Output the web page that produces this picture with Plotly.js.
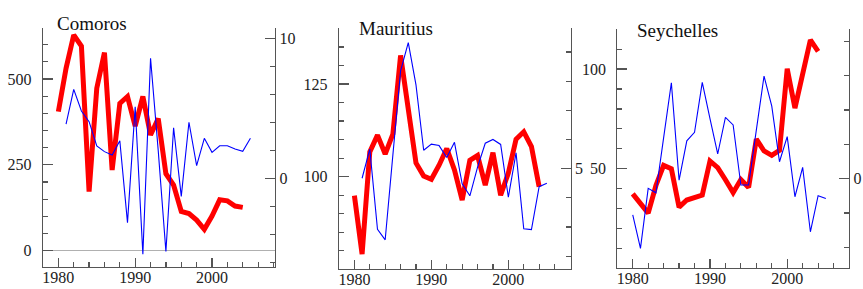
<!DOCTYPE html>
<html>
<head>
<meta charset="utf-8">
<script src="https://cdn.plot.ly/plotly-3.0.1.min.js"></script>
<style>html,body{margin:0;padding:0;background:#fff;}#chart{width:863px;height:289px;}</style>
</head>
<body>
<div id="chart"></div>
<script>
// ---- data ----
const panelNames = ["Comoros", "Mauritius", "Seychelles"];

const comorosRedYears = [1980,1981,1982,1983,1984,1985,1986,1987,1988,1989,1990,1991,1992,1993,1994,1995,1996,1997,1998,1999,2000,2001,2002,2003,2004];
const comorosRed = [405,531,628,596,172,473,577,235,429,449,363,449,337,385,224,191,114,108,89,62,101,148,145,130,126];
const comorosBlueYears = [1981,1982,1983,1984,1985,1986,1987,1988,1989,1990,1991,1992,1993,1994,1995,1996,1997,1998,1999,2000,2001,2002,2003,2004,2005];
const comorosBlue = [3.9,6.38,4.83,4.07,2.33,1.93,1.69,2.71,-3.14,5.14,-5.4,8.6,2.0,-5.2,3.64,-1.27,4.03,0.93,2.88,1.88,2.35,2.35,2.12,1.95,2.88];

const mauritiusRedYears = [1980,1981,1982,1983,1984,1985,1986,1987,1988,1989,1990,1991,1992,1993,1994,1995,1996,1997,1998,1999,2000,2001,2002,2003,2004];
const mauritiusRed = [94.9,79.1,106.7,111.2,106.1,111.5,132.7,118,103.7,100.2,99.3,103.1,107.6,101.8,93.7,104.4,105.7,97.7,106.5,95.0,101,110.1,112.1,108.1,97.3];
const mauritiusBlueYears = [1981,1982,1983,1984,1985,1986,1987,1988,1989,1990,1991,1992,1993,1994,1995,1996,1997,1998,1999,2000,2001,2002,2003,2004,2005];
const mauritiusBlue = [4.67,5.67,2.92,2.56,5.47,8.35,9.32,7.87,5.63,5.84,5.79,5.38,5.9,4.48,4.07,5.05,5.87,6.0,5.83,4.02,5.54,2.94,2.91,4.38,4.5];

const seychellesRedYears = [1980,1981,1982,1983,1984,1985,1986,1987,1988,1989,1990,1991,1992,1993,1994,1995,1996,1997,1998,1999,2000,2001,2002,2003,2004];
const seychellesRed = [37.4,32.4,27.7,41.6,51.7,50,30.7,34.3,35.4,36.8,53.9,50.6,44.5,38,44.6,40.6,64.9,58.9,56.7,59.2,100.2,80.4,97.5,114.6,108.9];
const seychellesBlueYears = [1980,1981,1982,1983,1984,1985,1986,1987,1988,1989,1990,1991,1992,1993,1994,1995,1996,1997,1998,1999,2000,2001,2002,2003,2004,2005];
const seychellesBlue = [-2.1,-4.06,-0.56,-0.82,2.39,5.59,-0.08,2.21,2.70,5.61,3.5,1.44,3.57,3.13,-0.37,-0.37,2.83,5.98,4.23,0.99,2.45,-1.05,0.66,-3.09,-0.99,-1.15];

// ---- styling ----
const W = 863, H = 289;
const FONT = "Liberation Serif, Times New Roman, serif";
const AX = "#555";
const RED = "#ff0000", BLUE = "#0000ff";

function red(x, y, xa, ya) {
  return {x: x, y: y, xaxis: xa, yaxis: ya, type: "scatter", mode: "lines",
          line: {color: RED, width: 5}, hoverinfo: "skip"};
}
function blue(x, y, xa, ya) {
  return {x: x, y: y, xaxis: xa, yaxis: ya, type: "scatter", mode: "lines",
          line: {color: BLUE, width: 1.1}, hoverinfo: "skip"};
}

const data = [
  red(comorosRedYears, comorosRed, "x", "y"),
  blue(comorosBlueYears, comorosBlue, "x", "y2"),
  red(mauritiusRedYears, mauritiusRed, "x2", "y3"),
  blue(mauritiusBlueYears, mauritiusBlue, "x2", "y4"),
  red(seychellesRedYears, seychellesRed, "x3", "y5"),
  blue(seychellesBlueYears, seychellesBlue, "x3", "y6")
];

const tickFont = {family: FONT, size: 16, color: "#222"};

function xAxis(domain, range, anchor) {
  return {domain: domain, range: range, anchor: anchor, showgrid: false, zeroline: false,
          showline: true, linecolor: AX, linewidth: 1.2,
          ticks: "inside", ticklen: 9, tickwidth: 1.2, tickcolor: AX, dtick: 10, tick0: 1980,
          minor: {dtick: 2, tick0: 1980, ticks: "inside", ticklen: 5, tickwidth: 1.2, tickcolor: AX, showgrid: false},
          tickfont: tickFont, ticklabelstandoff: -4, automargin: false, fixedrange: true};
}
function yLeft(domain, range, anchor, dtick, minorDtick, zl) {
  return {domain: domain, range: range, anchor: anchor, side: "left", showgrid: false,
          zeroline: !!zl, zerolinecolor: "#b0b0b0", zerolinewidth: 1.6,
          showline: true, linecolor: AX, linewidth: 1.2,
          ticks: "inside", ticklen: 10, tickwidth: 1.2, tickcolor: AX, dtick: dtick, tick0: 0,
          minor: {dtick: minorDtick, tick0: 0, ticks: "inside", ticklen: 5, tickwidth: 1.2, tickcolor: AX, showgrid: false},
          tickfont: tickFont, ticklabelstandoff: 7, automargin: false, fixedrange: true};
}
function yRight(range, anchor, overlay, dtick, minorDtick) {
  return {range: range, anchor: anchor, overlaying: overlay, side: "right", showgrid: false,
          zeroline: false, showline: true, linecolor: AX, linewidth: 1.2,
          ticks: "inside", ticklen: 10, tickwidth: 1.2, tickcolor: AX, dtick: dtick, tick0: 0,
          minor: {dtick: minorDtick, tick0: 0, ticks: "inside", ticklen: 5, tickwidth: 1.2, tickcolor: AX, showgrid: false},
          tickfont: tickFont, ticklabelstandoff: 0, automargin: false, fixedrange: true};
}

const xd1 = [43/W, 275/W], xd2 = [339/W, 570.7/W], xd3 = [617.3/W, 849/W];
const yd1 = [1-267/H, 1-28/H], yd2 = [1-269/H, 1-28/H], yd3 = [1-268/H, 1-29/H];

const titleFont = {family: FONT, size: 19, color: "#111"};
const layout = {
  width: W, height: H,
  margin: {l: 0, r: 0, t: 0, b: 0, pad: 0},
  paper_bgcolor: "#fff", plot_bgcolor: "rgba(0,0,0,0)",
  showlegend: false,
  font: {family: FONT},
  xaxis: xAxis(xd1, [1978, 2008.2], "y"),
  yaxis: yLeft(yd1, [-47.6, 648.5], "x", 250, 50, true),
  yaxis2: yRight([-6.31, 10.76], "x", "y", 10, 2),
  xaxis2: xAxis(xd2, [1978, 2008.1], "y3"),
  yaxis3: yLeft(yd2, [75.1, 140.1], "x2", 25, 5, false),
  yaxis4: yRight([1.56, 9.82], "x2", "y3", 5, 1),
  xaxis3: xAxis(xd3, [1978, 2008], "y5"),
  yaxis5: yLeft(yd3, [0.2, 120.1], "x3", 50, 10, false),
  yaxis6: yRight([-5.2, 8.72], "x3", "y5", 10, 2),
  annotations: [
    {text: panelNames[0], xref: "paper", yref: "paper", x: 55/W, y: 1-23/H, xanchor: "left", yanchor: "middle", showarrow: false, font: titleFont},
    {text: panelNames[1], xref: "paper", yref: "paper", x: 357/W, y: 1-29/H, xanchor: "left", yanchor: "middle", showarrow: false, font: titleFont},
    {text: panelNames[2], xref: "paper", yref: "paper", x: 635/W, y: 1-31/H, xanchor: "left", yanchor: "middle", showarrow: false, font: titleFont}
  ]
};

Plotly.newPlot("chart", data, layout, {staticPlot: true, displayModeBar: false});
</script>
</body>
</html>
